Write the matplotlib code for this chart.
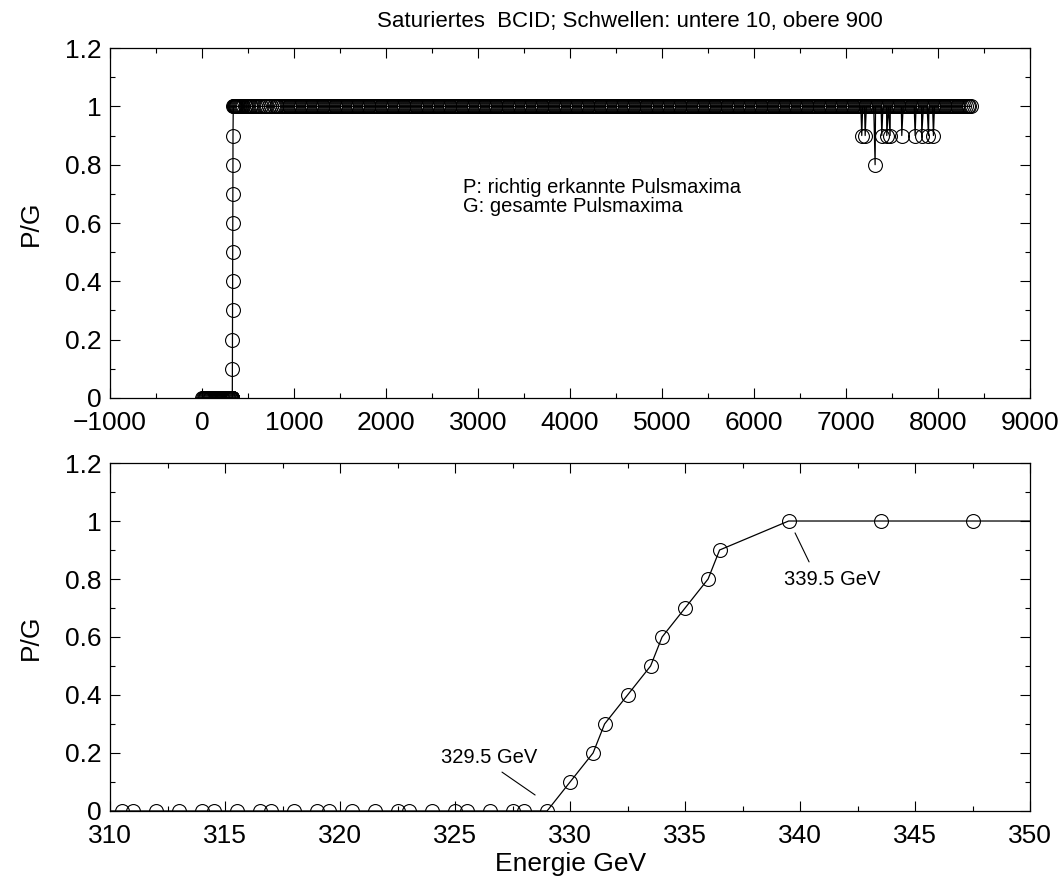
import numpy as np
import matplotlib
matplotlib.use("Agg")
import matplotlib.pyplot as plt
from matplotlib.ticker import MultipleLocator, FuncFormatter

plt.rcParams['font.family'] = ['Liberation Sans', 'DejaVu Sans']

# Energies (GeV) where P/G = 0
e_zero = [0, 9, 18, 28, 37, 46, 55, 65, 74, 83, 92, 102, 111, 120, 129, 139,
          148, 157, 166, 176, 185, 194, 203, 213, 222, 231, 240, 250, 259, 268,
          277, 287, 296, 305, 309.5, 310.5, 311.0, 312.0, 313.0, 314.0, 314.5,
          315.5, 316.5, 317.0, 318.0, 319.0, 319.5, 320.5, 321.5, 322.5, 323.0,
          324.0, 325.0, 325.5, 326.5, 327.5, 328.0, 329.0]

# Rising edge of the efficiency
e_rise = [330.0, 331.0, 331.5, 332.5, 333.5, 334.0, 335.0, 336.0, 336.5]
pg_rise = [0.1, 0.2, 0.3, 0.4, 0.5, 0.6, 0.7, 0.8, 0.9]

# Energies where P/G = 1
e_full = [339.5, 343.5, 347.5, 351.5, 355.5, 360, 366, 373, 381, 390, 400, 411,
          423, 436, 450, 465, 481, 498, 516, 535, 555, 576, 598, 621, 645, 670,
          696, 723, 751, 780,
          800, 820, 840, 860, 880, 900, 920, 940, 960, 980,
          1000, 1020, 1040, 1060, 1080, 1100, 1120, 1140, 1160, 1180,
          1200, 1220, 1240, 1260, 1280, 1300, 1320, 1340, 1360, 1380,
          1400, 1420, 1440, 1460, 1480, 1500, 1520, 1540, 1560, 1580,
          1600, 1620, 1640, 1660, 1680, 1700, 1720, 1740, 1760, 1780,
          1800, 1820, 1840, 1860, 1880, 1900, 1920, 1940, 1960, 1980,
          2000, 2020, 2040, 2060, 2080, 2100, 2120, 2140, 2160, 2180,
          2200, 2220, 2240, 2260, 2280, 2300, 2320, 2340, 2360, 2380,
          2400, 2420, 2440, 2460, 2480, 2500, 2520, 2540, 2560, 2580,
          2600, 2620, 2640, 2660, 2680, 2700, 2720, 2740, 2760, 2780,
          2800, 2820, 2840, 2860, 2880, 2900, 2920, 2940, 2960, 2980,
          3000, 3020, 3040, 3060, 3080, 3100, 3120, 3140, 3160, 3180,
          3200, 3220, 3240, 3260, 3280, 3300, 3320, 3340, 3360, 3380,
          3400, 3420, 3440, 3460, 3480, 3500, 3520, 3540, 3560, 3580,
          3600, 3620, 3640, 3660, 3680, 3700, 3720, 3740, 3760, 3780,
          3800, 3820, 3840, 3860, 3880, 3900, 3920, 3940, 3960, 3980,
          4000, 4020, 4040, 4060, 4080, 4100, 4120, 4140, 4160, 4180,
          4200, 4220, 4240, 4260, 4280, 4300, 4320, 4340, 4360, 4380,
          4400, 4420, 4440, 4460, 4480, 4500, 4520, 4540, 4560, 4580,
          4600, 4620, 4640, 4660, 4680, 4700, 4720, 4740, 4760, 4780,
          4800, 4820, 4840, 4860, 4880, 4900, 4920, 4940, 4960, 4980,
          5000, 5020, 5040, 5060, 5080, 5100, 5120, 5140, 5160, 5180,
          5200, 5220, 5240, 5260, 5280, 5300, 5320, 5340, 5360, 5380,
          5400, 5420, 5440, 5460, 5480, 5500, 5520, 5540, 5560, 5580,
          5600, 5620, 5640, 5660, 5680, 5700, 5720, 5740, 5760, 5780,
          5800, 5820, 5840, 5860, 5880, 5900, 5920, 5940, 5960, 5980,
          6000, 6020, 6040, 6060, 6080, 6100, 6120, 6140, 6160, 6180,
          6200, 6220, 6240, 6260, 6280, 6300, 6320, 6340, 6360, 6380,
          6400, 6420, 6440, 6460, 6480, 6500, 6520, 6540, 6560, 6580,
          6600, 6620, 6640, 6660, 6680, 6700, 6720, 6740, 6760, 6780,
          6800, 6820, 6840, 6860, 6880, 6900, 6920, 6940, 6960, 6980,
          7000, 7020, 7040, 7060, 7080, 7100, 7120, 7140, 7160, 7180,
          7200, 7220, 7240, 7260, 7280, 7300, 7320, 7340, 7360, 7380,
          7400, 7420, 7440, 7460, 7480, 7500, 7520, 7540, 7560, 7580,
          7600, 7620, 7640, 7660, 7680, 7700, 7720, 7740, 7760, 7780,
          7800, 7820, 7840, 7860, 7880, 7900, 7920, 7940, 7960, 7980,
          8000, 8020, 8040, 8060, 8080, 8100, 8120, 8140, 8160, 8180,
          8200, 8220, 8240, 8260, 8280, 8300, 8320, 8340, 8360]

# Isolated drops at high energy
e_dip = [7170, 7207, 7315, 7388, 7442, 7478, 7605, 7750, 7822, 7895, 7949]
pg_dip = [0.9, 0.9, 0.8, 0.9, 0.9, 0.9, 0.9, 0.9, 0.9, 0.9, 0.9]

energy = np.array(e_zero + e_rise + e_full + e_dip, dtype=float)
ratio = np.array([0.0] * len(e_zero) + pg_rise + [1.0] * len(e_full) + pg_dip)
order = np.argsort(energy, kind="stable")
energy, ratio = energy[order], ratio[order]

fig = plt.figure(figsize=(10.62, 8.86), dpi=100)
ax1 = fig.add_axes([0.1036, 0.5508, 0.8664, 0.3950])
ax2 = fig.add_axes([0.1036, 0.0847, 0.8664, 0.3927])

style = dict(color="black", lw=0.9, marker="o", markersize=10,
             markerfacecolor="none", markeredgecolor="black",
             markeredgewidth=0.8)

fmt = FuncFormatter(lambda v, p: f"{v:g}".replace("-", "\u2212"))

for ax in (ax1, ax2):
    ax.plot(energy, ratio, **style)
    ax.set_ylim(0, 1.2)
    ax.yaxis.set_major_locator(MultipleLocator(0.2))
    ax.yaxis.set_minor_locator(MultipleLocator(0.1))
    ax.yaxis.set_major_formatter(fmt)
    ax.tick_params(which="both", direction="in", top=True, right=True,
                   labelsize=19)
    ax.tick_params(axis="y", pad=6)
    ax.tick_params(axis="x", pad=9.5)
    ax.tick_params(which="major", length=7, width=0.8)
    ax.tick_params(which="minor", length=3.5, width=0.8)
    for s in ax.spines.values():
        s.set_linewidth(0.9)
    ax.set_ylabel("P/G", fontsize=19, labelpad=16)

ax1.set_xlim(-1000, 9000)
ax1.xaxis.set_major_locator(MultipleLocator(1000))
ax1.xaxis.set_minor_locator(MultipleLocator(500))
ax1.xaxis.set_major_formatter(fmt)
ax1.set_title("Saturiertes  BCID; Schwellen: untere 10, obere 900",
              fontsize=16, pad=15, x=0.565)
ax1.text(2840, 0.722, "P: richtig erkannte Pulsmaxima", fontsize=14.5,
         va="center", ha="left")
ax1.text(2840, 0.655, "G: gesamte Pulsmaxima", fontsize=14.5,
         va="center", ha="left")

ax2.set_xlim(310, 350)
ax2.xaxis.set_major_locator(MultipleLocator(5))
ax2.xaxis.set_minor_locator(MultipleLocator(2.5))
ax2.xaxis.set_major_formatter(fmt)
ax2.set_xlabel("Energie GeV", fontsize=19, labelpad=3)

ax2.annotate("", xy=(328.48, 0.055), xytext=(327.04, 0.134),
             arrowprops=dict(arrowstyle="-", lw=0.8, shrinkA=0, shrinkB=0))
ax2.text(324.4, 0.186, "329.5 GeV", fontsize=14.5, va="center", ha="left")
ax2.annotate("", xy=(340.39, 0.859), xytext=(339.78, 0.959),
             arrowprops=dict(arrowstyle="-", lw=0.8, shrinkA=0, shrinkB=0))
ax2.text(339.3, 0.80, "339.5 GeV", fontsize=14.5, va="center", ha="left")

fig.savefig("out.png", dpi=100)
